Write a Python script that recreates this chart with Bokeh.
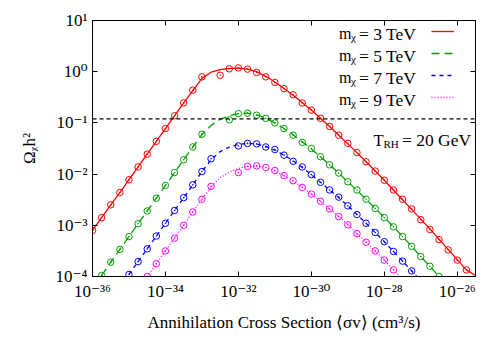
import numpy as np
from bokeh.plotting import figure
from bokeh.models import (LogAxis, FixedTicker, Span, Label, Legend, LegendItem, Range1d,
                          CustomJSTickFormatter)
from bokeh.embed import file_html
from bokeh.resources import INLINE

# ---------------- data (log10 values) ----------------
masses_tev = [3, 5, 7, 9]
omega_obs = 0.12
t_rh_gev = 20
x_ticks_exp = [-36, -34, -32, -30, -28, -26]
y_ticks_exp = [-4, -3, -2, -1, 0, 1]
x_lim_exp = [-36, -25.5]
y_lim_exp = [-4, 1]

# theory curves: log10(<sigma v>) and log10(Omega h^2)
line3_x = [-36, -35.75, -35.5, -35.25, -35, -34.75, -34.5, -34.25, -34, -33.75, -33.5, -33.25,
           -33, -32.75, -32.5, -32.25, -32, -31.75, -31.5, -31.25, -31, -30.75, -30.5, -30.25,
           -30, -29.75, -29.5, -29.25, -29, -28.75, -28.5, -28.25, -28, -27.75, -27.5, -27.25,
           -27, -26.75, -26.5, -26.25, -26, -25.75, -25.5]
line3_y = [-3.10, -2.85, -2.60, -2.36, -2.11, -1.86, -1.61, -1.36, -1.11, -0.86, -0.61, -0.37,
           -0.13, -0.01, 0.04, 0.065, 0.07, 0.05, 0.0, -0.09, -0.20, -0.33, -0.46, -0.60,
           -0.75, -0.91, -1.07, -1.24, -1.41, -1.58, -1.76, -1.94, -2.12, -2.31, -2.50, -2.69,
           -2.88, -3.07, -3.27, -3.47, -3.67, -3.87, -3.98]
line5_x = [-35.75, -35.5, -35.25, -35, -34.75, -34.5, -34.25, -34, -33.75, -33.5, -33.25, -33,
           -32.75, -32.5, -32.25, -32, -31.75, -31.5, -31.25, -31, -30.75, -30.5, -30.25, -30,
           -29.75, -29.5, -29.25, -29, -28.75, -28.5, -28.25, -28, -27.75, -27.5, -27.25, -27,
           -26.75, -26.5]
line5_y = [-3.98, -3.72, -3.47, -3.22, -2.97, -2.72, -2.47, -2.22, -1.97, -1.72, -1.47, -1.23,
           -1.05, -0.93, -0.86, -0.82, -0.81, -0.84, -0.91, -1.00, -1.11, -1.23, -1.37, -1.51,
           -1.66, -1.82, -1.98, -2.15, -2.32, -2.49, -2.67, -2.85, -3.03, -3.22, -3.41, -3.61,
           -3.80, -4.00]
line7_x = [-35, -34.75, -34.5, -34.25, -34, -33.75, -33.5, -33.25, -33, -32.75, -32.5, -32.25,
           -32, -31.75, -31.5, -31.25, -31, -30.75, -30.5, -30.25, -30, -29.75, -29.5, -29.25,
           -29, -28.75, -28.5, -28.25, -28, -27.75, -27.5, -27.25, -27]
line7_y = [-3.96, -3.71, -3.46, -3.21, -2.96, -2.71, -2.46, -2.21, -1.95, -1.72, -1.56, -1.47,
           -1.42, -1.40, -1.41, -1.46, -1.53, -1.63, -1.74, -1.87, -2.01, -2.16, -2.31, -2.46,
           -2.62, -2.79, -2.96, -3.14, -3.32, -3.51, -3.70, -3.89, -4.08]
line9_x = [-34.5, -34.25, -34, -33.75, -33.5, -33.25, -33, -32.75, -32.5, -32.25, -32, -31.75,
           -31.5, -31.25, -31, -30.75, -30.5, -30.25, -30, -29.75, -29.5, -29.25, -29, -28.75,
           -28.5, -28.25, -28, -27.75, -27.5]
line9_y = [-4.0, -3.75, -3.50, -3.25, -3.0, -2.74, -2.49, -2.25, -2.07, -1.96, -1.89, -1.85,
           -1.84, -1.87, -1.94, -2.03, -2.13, -2.26, -2.39, -2.53, -2.68, -2.83, -2.99, -3.16,
           -3.33, -3.50, -3.68, -3.87, -4.06]

# numerical points
pts3_x = [-36, -35.75, -35.5, -35.25, -35, -34.75, -34.5, -34.25, -34, -33.75, -33.5, -33.25, -33,
          -32.5, -32.25, -32, -31.75, -31.5, -31.25, -31, -30.75, -30.5, -30.25, -30, -29.75,
          -29.5, -29.25, -29, -28.75, -28.5, -28.25, -28, -27.75, -27.5, -27.25, -27, -26.75,
          -26.5, -26.25, -26, -25.75]
pts3_y = [-3.10, -2.85, -2.60, -2.36, -2.11, -1.86, -1.61, -1.36, -1.11, -0.86, -0.61, -0.36, -0.10,
          -0.07, 0.056, 0.075, 0.05, -0.015, -0.10, -0.21, -0.33, -0.45, -0.61, -0.75, -0.91,
          -1.07, -1.24, -1.40, -1.58, -1.76, -1.94, -2.12, -2.31, -2.49, -2.68, -2.89, -3.08,
          -3.28, -3.48, -3.68, -3.87]
pts5_x = [-35.75, -35.5, -35.25, -35, -34.75, -34.5, -34.25, -34, -33.75, -33.5, -33.25, -33,
          -32.25, -32, -31.75, -31.5, -31.25, -31, -30.75, -30.5, -30.25, -30, -29.75, -29.5,
          -29.25, -29, -28.75, -28.5, -28.25, -28, -27.75, -27.5, -27.25, -27, -26.75, -26.5]
pts5_y = [-3.98, -3.72, -3.47, -3.22, -2.97, -2.72, -2.47, -2.22, -1.97, -1.72, -1.47, -1.22,
          -0.94, -0.82, -0.81, -0.85, -0.91, -1.00, -1.11, -1.24, -1.38, -1.50, -1.66, -1.82,
          -1.98, -2.15, -2.31, -2.49, -2.67, -2.85, -3.03, -3.22, -3.41, -3.61, -3.80, -4.00]
pts7_x = [-35, -34.75, -34.5, -34.25, -34, -33.75, -33.5, -33.25, -33, -32.75,
          -32, -31.75, -31.5, -31.25, -31, -30.75, -30.5, -30.25, -30, -29.75, -29.5, -29.25,
          -29, -28.75, -28.5, -28.25, -28, -27.75, -27.5, -27.25]
pts7_y = [-3.96, -3.71, -3.46, -3.21, -2.96, -2.71, -2.46, -2.21, -1.95, -1.70,
          -1.45, -1.40, -1.41, -1.47, -1.52, -1.63, -1.75, -1.86, -2.01, -2.16, -2.31, -2.45,
          -2.62, -2.79, -2.96, -3.14, -3.32, -3.51, -3.70, -3.89]
pts9_x = [-34.5, -34.25, -34, -33.75, -33.5, -33.25, -33, -32.75,
          -32, -31.75, -31.5, -31.25, -31, -30.75, -30.5, -30.25, -30, -29.75, -29.5, -29.25,
          -29, -28.75, -28.5, -28.25, -28, -27.75]
pts9_y = [-4.0, -3.75, -3.50, -3.25, -3.0, -2.74, -2.49, -2.24,
          -1.97, -1.85, -1.84, -1.87, -1.93, -2.03, -2.13, -2.26, -2.39, -2.53, -2.68, -2.83,
          -2.99, -3.16, -3.33, -3.50, -3.68, -3.87]

series = [
    (masses_tev[0], line3_x, line3_y, pts3_x, pts3_y, "#ff0000", "solid"),
    (masses_tev[1], line5_x, line5_y, pts5_x, pts5_y, "#00a000", "8 5"),
    (masses_tev[2], line7_x, line7_y, pts7_x, pts7_y, "#0000ff", "4 4"),
    (masses_tev[3], line9_x, line9_y, pts9_x, pts9_y, "#ff00ff", "1 2"),
]

SERIF = "Liberation Serif"
TICK_FONT = "Liberation Serif, DejaVu Serif"

p = figure(width=484, height=334, x_axis_type="log", y_axis_type="log",
           x_range=Range1d(10.0 ** x_lim_exp[0], 10.0 ** x_lim_exp[1]),
           y_range=Range1d(10.0 ** y_lim_exp[0], 10.0 ** y_lim_exp[1]),
           output_backend="svg", toolbar_location=None,
           min_border_left=92, min_border_right=9, min_border_top=20, min_border_bottom=55)
p.xgrid.visible = False
p.ygrid.visible = False
p.outline_line_color = "black"
p.outline_line_alpha = 1.0
p.background_fill_color = "white"
p.border_fill_color = "white"

xt = [10.0 ** e for e in x_ticks_exp]
yt = [10.0 ** e for e in y_ticks_exp]

sup_formatter = CustomJSTickFormatter(code="""
const sup = {"-": "\\u207b", "0": "\\u2070", "1": "\\u00b9", "2": "\\u00b2", "3": "\\u00b3",
             "4": "\\u2074", "5": "\\u2075", "6": "\\u2076", "7": "\\u2077", "8": "\\u2078",
             "9": "\\u2079"};
const e = Math.round(Math.log10(tick));
return "10" + String(e).split("").map(c => sup[c]).join("");
""")


def style_axis(ax, show_labels):
    ax.major_tick_in = 5
    ax.major_tick_out = 0
    ax.minor_tick_in = 0
    ax.minor_tick_out = 0
    ax.axis_line_color = "black"
    ax.major_tick_line_color = "black"
    ax.major_label_text_font = TICK_FONT
    ax.major_label_text_color = "black"
    if show_labels:
        ax.major_label_text_font_size = "17px"
        ax.major_label_standoff = 5
    else:
        ax.major_label_text_font_size = "1px"
        ax.major_label_text_alpha = 0
        ax.major_label_standoff = 0


p.xaxis[0].ticker = FixedTicker(ticks=xt)
p.yaxis[0].ticker = FixedTicker(ticks=yt)
style_axis(p.xaxis[0], True)
style_axis(p.yaxis[0], True)
p.xaxis[0].formatter = sup_formatter
p.yaxis[0].formatter = sup_formatter
p.xaxis[0].axis_label = "Annihilation Cross Section \u27e8\u03c3v\u27e9 (cm\u00b3/s)"
p.yaxis[0].axis_label = "\u03a9\u1d6ah\u00b2"
for ax in (p.xaxis[0], p.yaxis[0]):
    ax.axis_label_text_font = SERIF
    ax.axis_label_text_font_size = "17px"
    ax.axis_label_text_font_style = "normal"
    ax.axis_label_text_color = "black"
p.xaxis[0].axis_label_standoff = 9
p.yaxis[0].axis_label_standoff = 14

top_ax = LogAxis(ticker=FixedTicker(ticks=xt))
right_ax = LogAxis(ticker=FixedTicker(ticks=yt))
style_axis(top_ax, False)
style_axis(right_ax, False)
p.add_layout(top_ax, "above")
p.add_layout(right_ax, "right")

p.add_layout(Span(location=omega_obs, dimension="width", line_color="black",
                  line_dash="4 3", line_width=1.2))

legend_items = []
for m, lx, ly, px, py, col, dash in series:
    r = p.line(10.0 ** np.array(lx), 10.0 ** np.array(ly), line_color=col,
               line_width=1.3, line_dash=dash)
    p.scatter(10.0 ** np.array(px), 10.0 ** np.array(py), marker="circle_dot", size=6.5,
              line_color=col, fill_color=None, line_width=1)
    legend_items.append(LegendItem(label="m", renderers=[r]))

legend = Legend(items=legend_items, location=(339, 168), orientation="vertical",
                glyph_width=23, glyph_height=22, label_height=22, label_width=1,
                label_standoff=0, spacing=0, padding=0, margin=0,
                border_line_color=None, background_fill_alpha=0,
                label_text_font_size="2px", label_text_alpha=0)
p.add_layout(legend, "center")


def add_text(x, y, text, size, angle=0.0):
    p.add_layout(Label(x=x, y=y, x_units="screen", y_units="screen", text=text,
                       text_font=SERIF, text_font_size=size, text_color="black",
                       text_align="left", text_baseline="alphabetic", angle=angle))


# legend texts
row_baselines = [243, 221, 199, 177]
for m, yb in zip(masses_tev, row_baselines):
    add_text(246.5, yb, "m", "16px")
    add_text(258.5, yb - 3.5, "\u03c7", "11px")
    add_text(266.5, yb, f"= {m} TeV", "17.5px")

# T_RH text
add_text(281, 136.5, "T", "16.5px")
add_text(291, 133, "RH", "11px")
add_text(309.5, 136.5, f"= {t_rh_gev} GeV", "17.5px")

open("out.html", "w").write(file_html(p, INLINE))
